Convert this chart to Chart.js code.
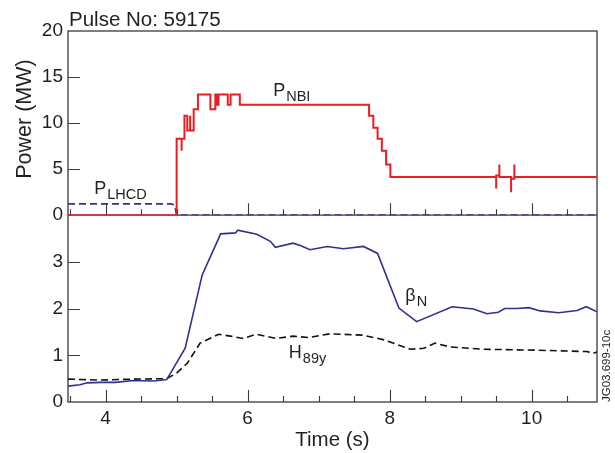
<!DOCTYPE html>
<html>
<head>
<meta charset="utf-8">
<script src="https://cdn.jsdelivr.net/npm/chart.js@4/dist/chart.umd.min.js"></script>
<style>
  body { margin: 0; background: #fff; }
  canvas { display: block; }
</style>
</head>
<body>
<canvas id="myChart" width="615" height="453"></canvas>
<script>
    // ---- data ----
    var nbiTime  = [3.47, 5.0, 5.0, 5.07, 5.07, 5.07, 5.11, 5.11, 5.15, 5.15, 5.19, 5.19, 5.19, 5.24, 5.24, 5.30, 5.30,
                    5.475, 5.475, 5.545, 5.545, 5.57, 5.57, 5.59, 5.59, 5.72, 5.72, 5.76, 5.76, 5.89, 5.89,
                    7.71, 7.71, 7.77, 7.77, 7.83, 7.83, 7.89, 7.89, 7.95, 7.95, 8.01, 8.01,
                    9.50, 9.50, 9.50, 9.545, 9.545, 9.545, 9.71, 9.71, 9.71, 9.756, 9.756, 9.756, 10.92];
    var nbiPower = [0, 0, 8.3, 8.3, 7.0, 8.3, 8.3, 10.8, 10.8, 9.2, 9.2, 10.8, 9.2, 9.2, 11.5, 11.5, 13.1,
                    13.1, 11.5, 11.5, 13.1, 13.1, 12.0, 12.0, 13.1, 13.1, 12.0, 12.0, 13.1, 13.1, 12.0,
                    12.0, 10.8, 10.8, 9.5, 9.5, 8.3, 8.3, 7.0, 7.0, 5.5, 5.5, 4.15,
                    4.15, 2.9, 4.3, 4.3, 5.5, 4.15, 4.15, 2.5, 3.95, 3.95, 5.5, 4.15, 4.15];

    var lhcdTime  = [3.47, 4.92, 4.97, 5.0, 10.92];
    var lhcdPower = [1.22, 1.22, 1.1, 0, 0];

    var betaTime = [3.47, 3.64, 3.74, 3.93, 4.14, 4.39, 4.68, 4.86, 5.12, 5.36, 5.62, 5.83, 5.86, 6.13, 6.32, 6.39,
                    6.64, 6.74, 6.88, 7.12, 7.35, 7.63, 7.83, 8.13, 8.38, 8.88, 9.18, 9.37, 9.53, 9.62, 9.79,
                    9.96, 10.12, 10.38, 10.64, 10.77, 10.92];
    var betaN    = [0.34, 0.37, 0.41, 0.42, 0.42, 0.46, 0.45, 0.48, 1.15, 2.72, 3.6, 3.62, 3.68, 3.59, 3.44, 3.31,
                    3.40, 3.35, 3.26, 3.33, 3.28, 3.33, 3.18, 2.01, 1.72, 2.04, 1.99, 1.89, 1.92, 2.0, 2.0,
                    2.02, 1.95, 1.91, 1.96, 2.04, 1.93];

    var h89Time = [3.47, 3.93, 4.39, 4.86, 5.0, 5.15, 5.33, 5.59, 5.76, 5.94, 6.12, 6.40, 6.64, 6.86, 7.16, 7.63,
                   7.92, 8.29, 8.48, 8.64, 8.85, 9.32, 10.03, 10.78, 10.86, 10.92];
    var h89y    = [0.49, 0.47, 0.49, 0.50, 0.62, 0.83, 1.26, 1.45, 1.41, 1.36, 1.45, 1.36, 1.41, 1.38, 1.46, 1.43,
                   1.33, 1.13, 1.15, 1.26, 1.18, 1.13, 1.11, 1.08, 1.04, 1.07];

    var xTicks     = [4, 6, 8, 10];
    var powerTicks = [0, 5, 10, 15, 20];
    var betaTicks  = [0, 1, 2, 3];

    var txt = '#231f20';
    var fam = '"Liberation Sans", Arial, Helvetica, sans-serif';

    function pts(xs, ys) {
        var out = [];
        for (var i = 0; i < xs.length; i++) out.push({x: xs[i], y: ys[i]});
        return out;
    }

    // frame, panel divider and the inward tick marks
    var framePlugin = {
        id: 'frame',
        beforeDatasetsDraw: function(chart) {
            var c = chart.ctx, a = chart.chartArea;
            var sx = chart.scales.x, sp = chart.scales.yP, sb = chart.scales.yB;
            var mid = sp.getPixelForValue(0);
            c.save();
            c.strokeStyle = '#3a3a3a';
            c.lineWidth = 1.3;
            c.strokeRect(a.left, a.top, a.right - a.left, a.bottom - a.top);
            c.beginPath();
            c.moveTo(a.left, mid); c.lineTo(a.right, mid);
            c.stroke();

            c.lineWidth = 1.1;
            c.beginPath();
            for (var t = 3.5; t <= 11; t += 0.5) {
                var px = Math.round(sx.getPixelForValue(t)) + 0.5;
                if (px <= a.left + 1 || px >= a.right - 1) continue;
                var len = xTicks.indexOf(t) >= 0 ? 12 : 6;
                c.moveTo(px, a.bottom); c.lineTo(px, a.bottom - len);
                c.moveTo(px, mid); c.lineTo(px, mid - len);
            }
            powerTicks.forEach(function(v) {
                if (v == 0 || v == 20) return;
                var py = Math.round(sp.getPixelForValue(v)) + 0.5;
                c.moveTo(a.left, py); c.lineTo(a.left + 12, py);
            });
            betaTicks.forEach(function(v) {
                if (v == 0) return;
                var py = Math.round(sb.getPixelForValue(v)) + 0.5;
                c.moveTo(a.left, py); c.lineTo(a.left + 12, py);
            });
            c.stroke();
            c.restore();
        },
        afterDraw: function(chart) {
            var c = chart.ctx;
            var sx = chart.scales.x, sp = chart.scales.yP, sb = chart.scales.yB;
            c.save();
            c.fillStyle = txt;
            c.textBaseline = 'alphabetic';

            function label(main, sub, x, y) {
                c.font = '18px ' + fam;
                c.textAlign = 'left';
                c.fillText(main, x, y);
                var w = c.measureText(main).width;
                c.font = '14.5px ' + fam;
                c.fillText(sub, x + w + 1, y + 5);
            }
            label('P', 'NBI', sx.getPixelForValue(6.36), sp.getPixelForValue(12.93));
            label('P', 'LHCD', sx.getPixelForValue(3.84), sp.getPixelForValue(2.26));
            label('\u03B2', 'N', sx.getPixelForValue(8.22), sb.getPixelForValue(2.17));
            label('H', '89y', sx.getPixelForValue(6.58), sb.getPixelForValue(0.94));

            c.font = '20.5px ' + fam;
            c.textAlign = 'left';
            c.fillText('Pulse No: 59175', 69, 26);

            c.textAlign = 'center';
            c.fillText('Time (s)', (chart.chartArea.left + chart.chartArea.right) / 2, 446);

            c.save();
            c.translate(31, 119);
            c.rotate(-Math.PI / 2);
            c.font = '21.5px ' + fam;
            c.fillText('Power (MW)', 0, 0);
            c.restore();

            c.save();
            c.translate(610, 402);
            c.rotate(-Math.PI / 2);
            c.font = '11.5px ' + fam;
            c.textAlign = 'left';
            c.fillText('JG03.699-10c', 0, 0);
            c.restore();
            c.restore();
        }
    };

    var tickFont = { family: fam, size: 19 };

    window.onload = function() {
        var ctx = document.getElementById("myChart").getContext("2d");
        var myChart = new Chart(ctx, {
            type: 'line',
            data: {
                datasets: [
                    {
                        label: 'P_NBI', yAxisID: 'yP',
                        data: pts(nbiTime, nbiPower),
                        borderColor: '#ec1c24', borderWidth: 2,
                        pointRadius: 0, tension: 0, fill: false
                    },
                    {
                        label: 'P_LHCD', yAxisID: 'yP',
                        data: pts(lhcdTime, lhcdPower),
                        borderColor: '#2e3192', borderWidth: 1.6, borderDash: [7, 4],
                        pointRadius: 0, tension: 0, fill: false
                    },
                    {
                        label: 'beta_N', yAxisID: 'yB',
                        data: pts(betaTime, betaN),
                        borderColor: '#2e3192', borderWidth: 1.6,
                        pointRadius: 0, tension: 0, fill: false
                    },
                    {
                        label: 'H89y', yAxisID: 'yB',
                        data: pts(h89Time, h89y),
                        borderColor: '#111', borderWidth: 1.6, borderDash: [7, 4],
                        pointRadius: 0, tension: 0, fill: false
                    }
                ]
            },
            options: {
                responsive: false,
                animation: false,
                layout: { padding: { top: 31, right: 18, bottom: 0, left: 0 } },
                plugins: { legend: { display: false }, tooltip: { enabled: false } },
                scales: {
                    x: {
                        type: 'linear', position: 'bottom',
                        min: 3.47, max: 10.92,
                        grid: { display: false, drawTicks: false }, border: { display: false },
                        afterBuildTicks: function(axis) {
                            axis.ticks = xTicks.map(function(v) { return {value: v}; });
                        },
                        afterFit: function(axis) { axis.height = 51; },
                        ticks: { color: txt, font: tickFont, padding: 5, maxRotation: 0 }
                    },
                    yB: {
                        type: 'linear', position: 'left',
                        stack: 'panels', stackWeight: 186.7,
                        min: 0, max: 4,
                        grid: { display: false, drawTicks: false }, border: { display: false },
                        afterBuildTicks: function(axis) {
                            axis.ticks = betaTicks.map(function(v) { return {value: v}; });
                        },
                        afterFit: function(axis) { axis.width = 68; },
                        ticks: { color: txt, font: tickFont, padding: 5 }
                    },
                    yP: {
                        type: 'linear', position: 'left',
                        stack: 'panels', stackWeight: 184,
                        min: 0, max: 20,
                        grid: { display: false, drawTicks: false }, border: { display: false },
                        afterBuildTicks: function(axis) {
                            axis.ticks = powerTicks.map(function(v) { return {value: v}; });
                        },
                        afterFit: function(axis) { axis.width = 68; },
                        ticks: { color: txt, font: tickFont, padding: 5 }
                    }
                }
            },
            plugins: [framePlugin]
        });
    };
</script>
</body>
</html>
